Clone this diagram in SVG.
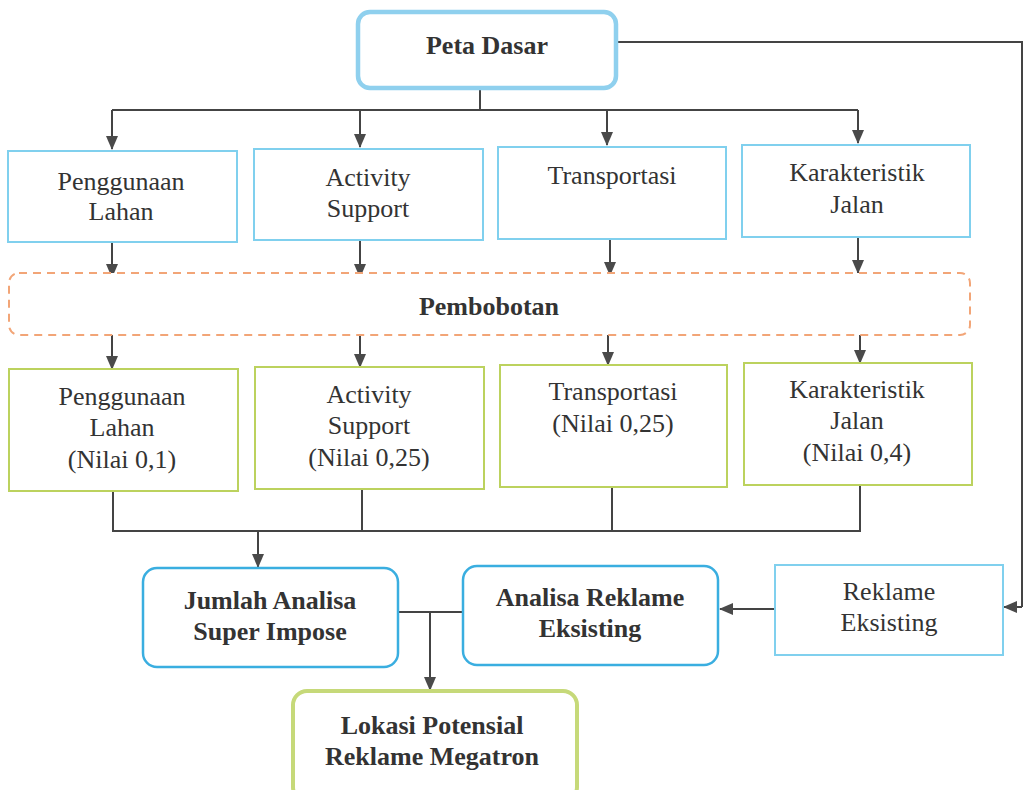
<svg xmlns="http://www.w3.org/2000/svg" width="1024" height="790" viewBox="0 0 1024 790">
<defs>
<marker id="ah" markerWidth="14" markerHeight="12" refX="13" refY="6" orient="auto" markerUnits="userSpaceOnUse">
<path d="M0,0 L14,6 L0,12 Z" fill="#4a4a4a"/>
</marker>
<style>
.t{font-family:"Liberation Serif","Times New Roman",serif;font-size:26px;fill:#333;text-anchor:middle}
.b{font-weight:bold}
.lb{fill:#fff;stroke:#80d0ee;stroke-width:2}
.gr{fill:#fff;stroke:#bcd25e;stroke-width:2}
.bl{fill:#fff;stroke:#3aaee0;stroke-width:2.5}
.c{fill:none;stroke:#444;stroke-width:2}
</style>
</defs>
<rect width="1024" height="790" fill="#fff"/>
<g id="connectors">
<path class="c" d="M617,42 H1022 V607"/>
<path class="c" d="M1022,607 H1004" marker-end="url(#ah)"/>
<path class="c" d="M480,88 V110 M112,110 H858"/>
<path class="c" d="M112,110 V149" marker-end="url(#ah)"/>
<path class="c" d="M360,110 V147" marker-end="url(#ah)"/>
<path class="c" d="M607,110 V145" marker-end="url(#ah)"/>
<path class="c" d="M858,110 V143" marker-end="url(#ah)"/>
<path class="c" d="M112,242 V277" marker-end="url(#ah)"/>
<path class="c" d="M360,240 V277" marker-end="url(#ah)"/>
<path class="c" d="M610,239 V275" marker-end="url(#ah)"/>
<path class="c" d="M858,237 V273" marker-end="url(#ah)"/>
<path class="c" d="M112,335 V369" marker-end="url(#ah)"/>
<path class="c" d="M360,335 V367" marker-end="url(#ah)"/>
<path class="c" d="M608,333 V365" marker-end="url(#ah)"/>
<path class="c" d="M860,331 V363" marker-end="url(#ah)"/>
<path class="c" d="M113,491 V531 H860 V485 M362,489 V531 M612,487 V531"/>
<path class="c" d="M258,531 V567" marker-end="url(#ah)"/>
<path class="c" d="M398,612 H462 M430,612 V690" marker-end="url(#ah)"/>
<path class="c" d="M775,609 H720" marker-end="url(#ah)"/>
</g>
<g id="peta-dasar">
<rect x="358" y="12" width="258" height="76" rx="12" fill="#fff" stroke="#8fd0ee" stroke-width="4.5"/>
<text class="t b" x="487" y="54">Peta Dasar</text>
</g>
<g id="penggunaan-lahan">
<rect class="lb" x="8" y="151" width="229" height="91"/>
<text class="t" x="121" y="190">Penggunaan</text>
<text class="t" x="121" y="220">Lahan</text>
</g>
<g id="activity-support">
<rect class="lb" x="254" y="149" width="229" height="91"/>
<text class="t" x="368" y="186">Activity</text>
<text class="t" x="368" y="217">Support</text>
</g>
<g id="transportasi">
<rect class="lb" x="498" y="147" width="228" height="92"/>
<text class="t" x="612" y="184">Transportasi</text>
</g>
<g id="karakteristik-jalan">
<rect class="lb" x="742" y="145" width="228" height="92"/>
<text class="t" x="857" y="181">Karakteristik</text>
<text class="t" x="857" y="213">Jalan</text>
</g>
<g id="pembobotan">
<rect x="9" y="273" width="961" height="62" rx="10" fill="#fff" stroke="#f2a577" stroke-width="2" stroke-dasharray="8,6"/>
<text class="t b" x="489" y="315">Pembobotan</text>
</g>
<g id="penggunaan-lahan-nilai">
<rect class="gr" x="9" y="369" width="229" height="122"/>
<text class="t" x="122" y="405">Penggunaan</text>
<text class="t" x="122" y="436">Lahan</text>
<text class="t" x="122" y="468">(Nilai 0,1)</text>
</g>
<g id="activity-support-nilai">
<rect class="gr" x="255" y="367" width="229" height="122"/>
<text class="t" x="369" y="403">Activity</text>
<text class="t" x="369" y="434">Support</text>
<text class="t" x="369" y="466">(Nilai 0,25)</text>
</g>
<g id="transportasi-nilai">
<rect class="gr" x="500" y="365" width="227" height="122"/>
<text class="t" x="613" y="400">Transportasi</text>
<text class="t" x="613" y="432">(Nilai 0,25)</text>
</g>
<g id="karakteristik-jalan-nilai">
<rect class="gr" x="744" y="363" width="228" height="122"/>
<text class="t" x="857" y="398">Karakteristik</text>
<text class="t" x="857" y="429">Jalan</text>
<text class="t" x="857" y="461">(Nilai 0,4)</text>
</g>
<g id="jumlah-analisa">
<rect class="bl" x="143" y="568" width="255" height="99" rx="14"/>
<text class="t b" x="270" y="609">Jumlah Analisa</text>
<text class="t b" x="270" y="640">Super Impose</text>
</g>
<g id="analisa-reklame">
<rect class="bl" x="463" y="566" width="255" height="99" rx="14"/>
<text class="t b" x="590" y="606">Analisa Reklame</text>
<text class="t b" x="590" y="637">Eksisting</text>
</g>
<g id="reklame-eksisting">
<rect class="lb" x="775" y="565" width="228" height="90"/>
<text class="t" x="889" y="600">Reklame</text>
<text class="t" x="889" y="631">Eksisting</text>
</g>
<g id="lokasi-potensial">
<rect x="293" y="691" width="284" height="110" rx="14" fill="#fff" stroke="#c6d979" stroke-width="4"/>
<text class="t b" x="432" y="734">Lokasi Potensial</text>
<text class="t b" x="432" y="765">Reklame Megatron</text>
</g>
</svg>
